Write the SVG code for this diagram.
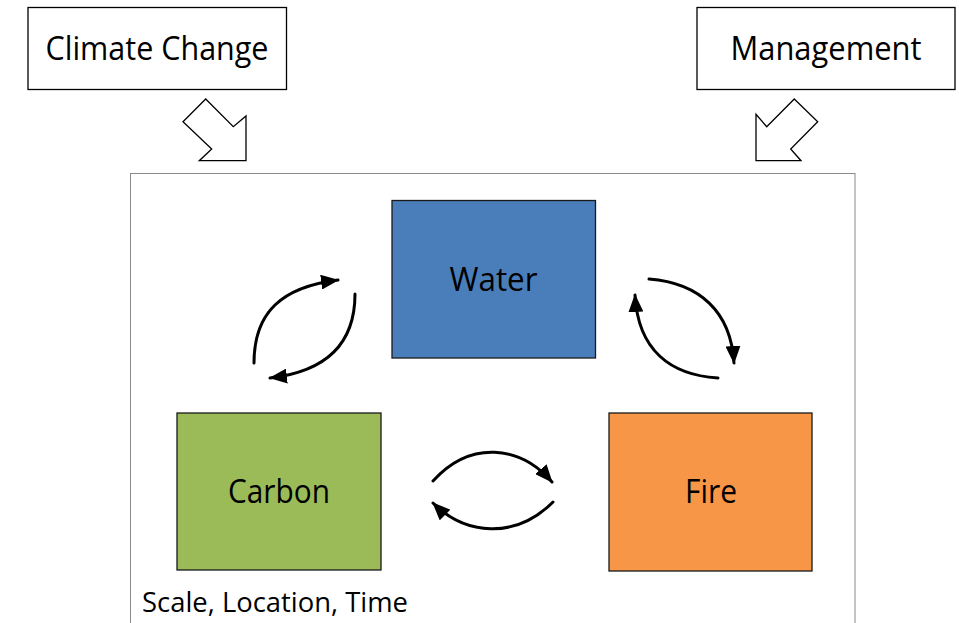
<svg xmlns="http://www.w3.org/2000/svg" width="959" height="623" viewBox="0 0 959 623">
<style>
.lbl{font-family:"Open Sans","Liberation Sans",sans-serif;font-size:32px;fill:#000;text-anchor:middle}
.small{font-size:26.5px;text-anchor:start}
.ext{fill:#fff;stroke:#000;stroke-width:1.3}
.blk{fill:#fff;stroke:#000;stroke-width:1.3;stroke-linejoin:miter}
.node{stroke:#1a1a1a;stroke-width:1.3}
.cur{fill:none;stroke:#000;stroke-width:3;stroke-linecap:round;marker-end:url(#ah)}
</style>
<defs>
<marker id="ah" markerUnits="userSpaceOnUse" markerWidth="18" markerHeight="15" viewBox="0 0 18 15" refX="17" refY="7.5" orient="auto">
<path d="M0,0 L18,7.5 L0,15 z" fill="#000"/>
</marker>
</defs>
<rect width="959" height="623" fill="#fff"/>
<g id="container">
<rect x="130.5" y="173.5" width="724.5" height="460" fill="none" stroke="#8a8a8a" stroke-width="1"/>
<text class="lbl small" x="142" y="612" textLength="266" lengthAdjust="spacingAndGlyphs">Scale, Location, Time</text>
</g>
<g id="climate">
<rect class="ext" x="28" y="7.5" width="258.5" height="82"/>
<text class="lbl" x="157" y="60" textLength="223" lengthAdjust="spacingAndGlyphs">Climate Change</text>
</g>
<g id="management">
<rect class="ext" x="697" y="7.5" width="258" height="82"/>
<text class="lbl" x="826" y="60" textLength="191" lengthAdjust="spacingAndGlyphs">Management</text>
</g>
<g id="water">
<rect class="node" x="392" y="200.5" width="203.5" height="157.5" fill="#4a7ebb"/>
<text class="lbl" x="493.5" y="291" textLength="88" lengthAdjust="spacingAndGlyphs">Water</text>
</g>
<g id="carbon">
<rect class="node" x="177" y="413" width="204" height="157" fill="#9bbb59"/>
<text class="lbl" x="279" y="503" textLength="102" lengthAdjust="spacingAndGlyphs">Carbon</text>
</g>
<g id="fire">
<rect class="node" x="609" y="413" width="203" height="158" fill="#f79646"/>
<text class="lbl" x="711" y="503" textLength="52" lengthAdjust="spacingAndGlyphs">Fire</text>
</g>
<g id="connectors">
<polygon class="blk" points="205.7,99 233.3,126.7 246,116 246,160.7 199.3,160.7 211.7,149 183,121.7"/>
<polygon class="blk" points="794.3,99 817.7,121.7 790.7,149 801,160.7 756,160.7 756,114.3 766.7,126.7"/>
<path class="cur" d="M254,363 C254,312 282,287 338,280"/>
<path class="cur" d="M355,294 C355,348 322,372 270,378"/>
<path class="cur" d="M649,279 C700,283 731,312 734,363"/>
<path class="cur" d="M718,378 C670,375 638,350 635,295"/>
<path class="cur" d="M433,481 C470,440 520,445 552,482"/>
<path class="cur" d="M553,502 C515,540 465,535 433,503"/>
</g>
</svg>
